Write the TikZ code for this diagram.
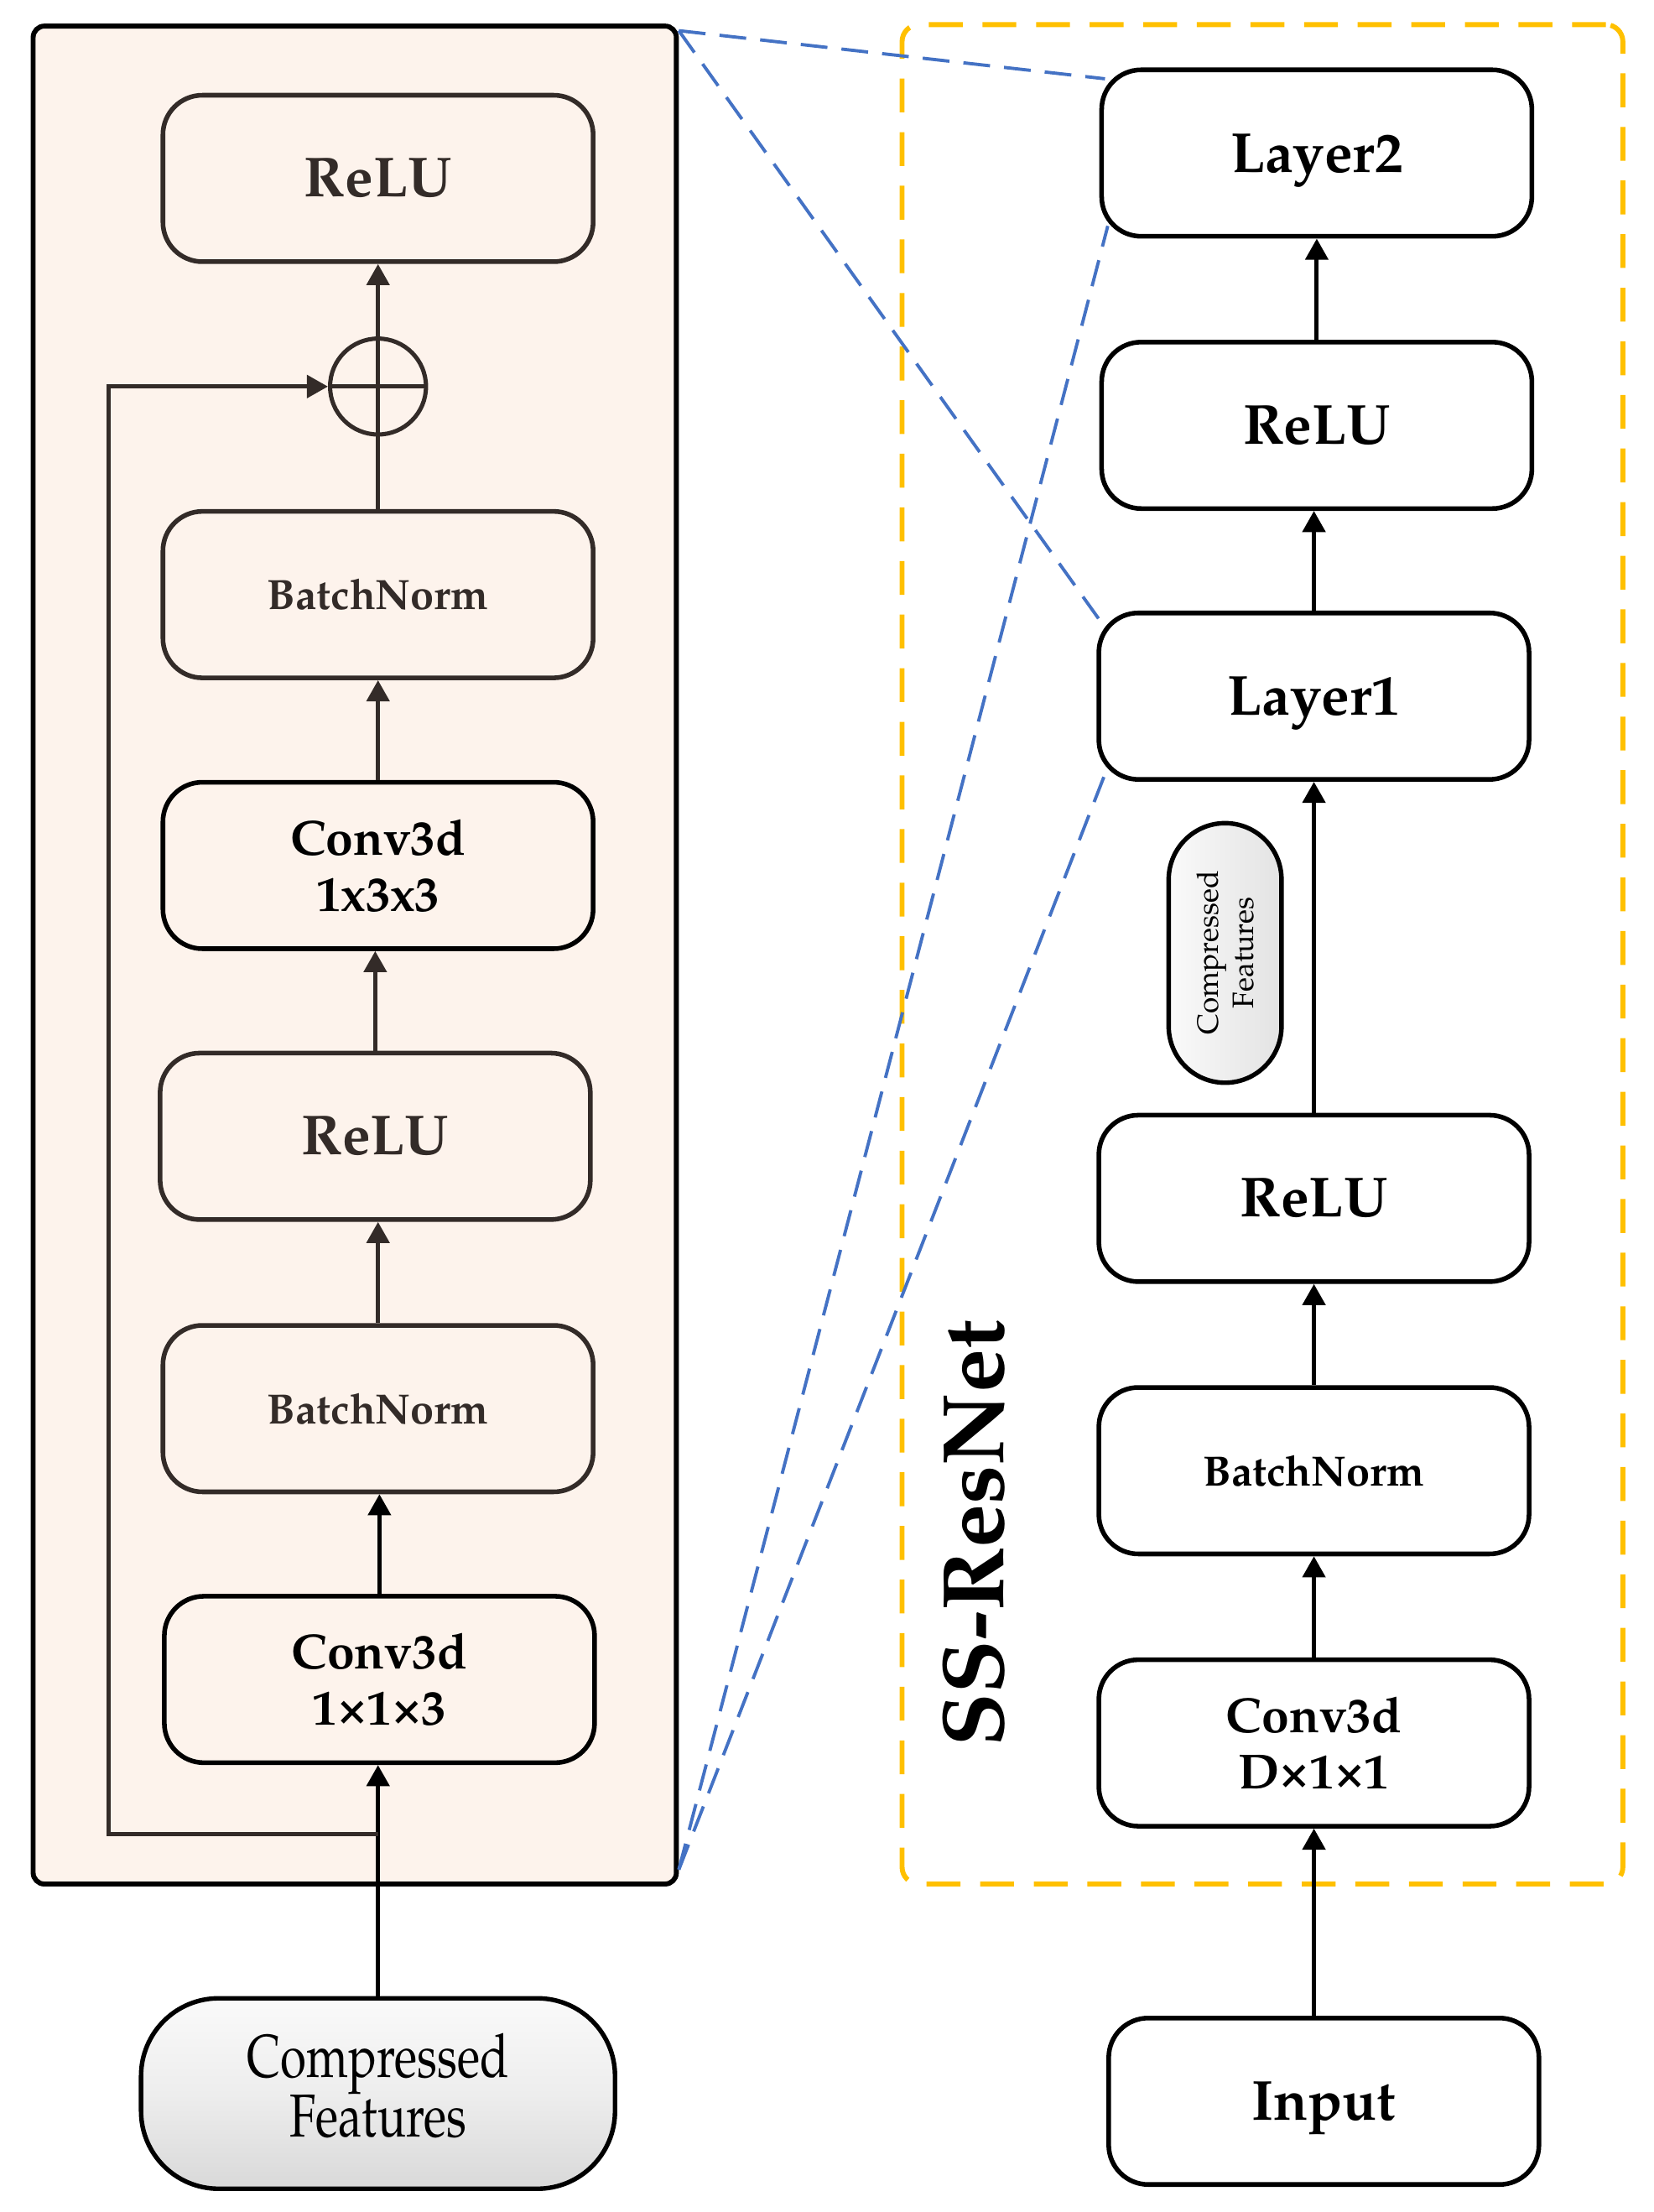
\documentclass[tikz,border=0pt]{standalone}
\usepackage[T1]{fontenc}
\usepackage{mathpazo}
\usepackage{graphicx}
\usetikzlibrary{arrows.meta,calc}
\definecolor{panelfill}{HTML}{FDF3EC}
\definecolor{orng}{HTML}{FFC000}
\definecolor{blu}{HTML}{4472C4}
\definecolor{dk}{HTML}{332B28}
\begin{document}
\begin{tikzpicture}[x=1pt,y=-1pt,
  blk/.style={draw, rounded corners=28pt, line width=3.3pt, minimum width=305pt, minimum height=118pt,
    inner sep=0pt, align=center, fill=white, font=\bfseries\fontsize{40}{44}\selectfont},
  lblk/.style={blk, fill=none, draw=dk, text=dk},
  nodesc/.style={text depth=0pt},
  small/.style={font=\bfseries\fontsize{30}{34}\selectfont},
  conv/.style={font=\bfseries\fontsize{35}{40}\selectfont},
  arr/.style={line width=3pt, -{Triangle[width=16pt,length=15pt]}},
  ln/.style={line width=3pt},
  zoomln/.style={draw=blu, line width=2.3pt, dash pattern=on 19pt off 10pt}
]
\useasboundingbox (0,0) rectangle (1172,1568);

% panels
\node[draw, line width=3.5pt, fill=panelfill, rounded corners=8pt, minimum width=456pt, minimum height=1317pt, inner sep=0pt] (Lpanel) at (251.5,677) {};
\node[draw=orng, dash pattern=on 24pt off 14pt, line width=3.5pt, rounded corners=12pt, minimum width=511pt, minimum height=1318pt, inner sep=0pt] (Rpanel) at (895,676.5) {};

% left column
\node[lblk] (lrelu1) at (268,126.5) {ReLU};
\node[circle, draw=dk, line width=3pt, minimum size=68pt, inner sep=0pt] (add) at (268,274) {};
\node[lblk, small] (lbn1) at (268,421.5) {BatchNorm};
\node[lblk, draw=black, text=black, conv] (lconv2) at (268,613.5) {Conv3d\\1x3x3};
\node[lblk] (lrelu2) at (266,805.5) {ReLU};
\node[lblk, small] (lbn2) at (268,998.5) {BatchNorm};
\node[lblk, draw=black, text=black, conv] (lconv1) at (269,1190.5) {Conv3d\\1\texttimes1\texttimes3};

\node[draw, line width=3.2pt, rounded corners=55pt, minimum width=336pt, minimum height=135pt, inner sep=0pt,
  top color=gray!4, bottom color=gray!30, middle color=gray!14,
  font=\fontsize{43}{40}\selectfont] (cf) at (268,1484)
  {\scalebox{0.78}[1]{\begin{tabular}{@{}c@{}}Compressed\\Features\end{tabular}}};

\coordinate (sk) at (268,1300);
\coordinate (skA) at (77,1300);
\coordinate (skB) at (77,274);

\draw[arr] (cf.north) -- (cf.north |- lconv1.south);
\draw[arr] (lconv1.north) -- (lconv1.north |- lbn2.south);
\draw[arr, draw=dk] (lbn2.north) -- (lbn2.north |- lrelu2.south);
\draw[arr, draw=dk] (lrelu2.north) -- (lrelu2.north |- lconv2.south);
\draw[arr, draw=dk] (lconv2.north) -- (lbn1.south);
\draw[ln, draw=dk] (lbn1.north) -- (add.south);
\draw[ln, draw=dk] (add.south) -- (add.north);
\draw[ln, draw=dk] (add.west) -- (add.east);
\draw[arr, draw=dk] (add.north) -- (lrelu1.south);
\draw[arr, draw=dk] (sk) -- (skA) -- (skB) -- (add.west);

% right column
\node[blk, nodesc] (layer2) at (933.5,108.5) {Layer2};
\node[blk] (rrelu2) at (933.5,301.5) {ReLU};
\node[blk, nodesc] (layer1) at (931.5,493.5) {Layer1};
\node[draw, line width=3.2pt, rounded corners=40pt, minimum width=80pt, minimum height=184pt, inner sep=0pt,
  left color=gray!4, right color=gray!22] (cfv) at (868.5,675.5) {};
\node[rotate=90, align=center, font=\fontsize{21}{25}\selectfont] (cfvt) at (cfv.center) {Compressed\\Features};
\node[blk] (rrelu1) at (931.5,849.5) {ReLU};
\node[blk, small] (rbn) at (931.5,1042.5) {BatchNorm};
\node[blk, conv] (rconv) at (931.5,1235.5) {Conv3d\\D\texttimes1\texttimes1};
\node[blk, nodesc] (input) at (938.5,1489.5) {Input};

\draw[arr] (rconv.south |- input.north) -- (rconv.south);
\draw[arr] (rconv.north) -- (rbn.south);
\draw[arr] (rbn.north) -- (rrelu1.south);
\draw[arr] (rrelu1.north) -- (rrelu1.north |- layer1.south);
\draw[arr] (layer1.north) -- (layer1.north |- rrelu2.south);
\draw[arr] (rrelu2.north) -- (layer2.south);

\node[rotate=90, font=\bfseries\fontsize{62}{68}\selectfont] (ssres) at (690,1087) {SS-ResNet};

% zoom lines
\draw[zoomln] ($(Lpanel.north east)+(0,5)$) -- ($(layer2.north west)+(4,8)$);
\draw[zoomln] ($(Lpanel.north east)+(0,5)$) -- ($(layer1.north west)+(6,12)$);
\draw[zoomln] ($(Lpanel.south east)+(0,-12)$) -- ($(layer2.south west)+(6,-9)$);
\draw[zoomln] ($(Lpanel.south east)+(0,-12)$) -- ($(layer1.south west)+(7,-8)$);
\end{tikzpicture}
\end{document}
